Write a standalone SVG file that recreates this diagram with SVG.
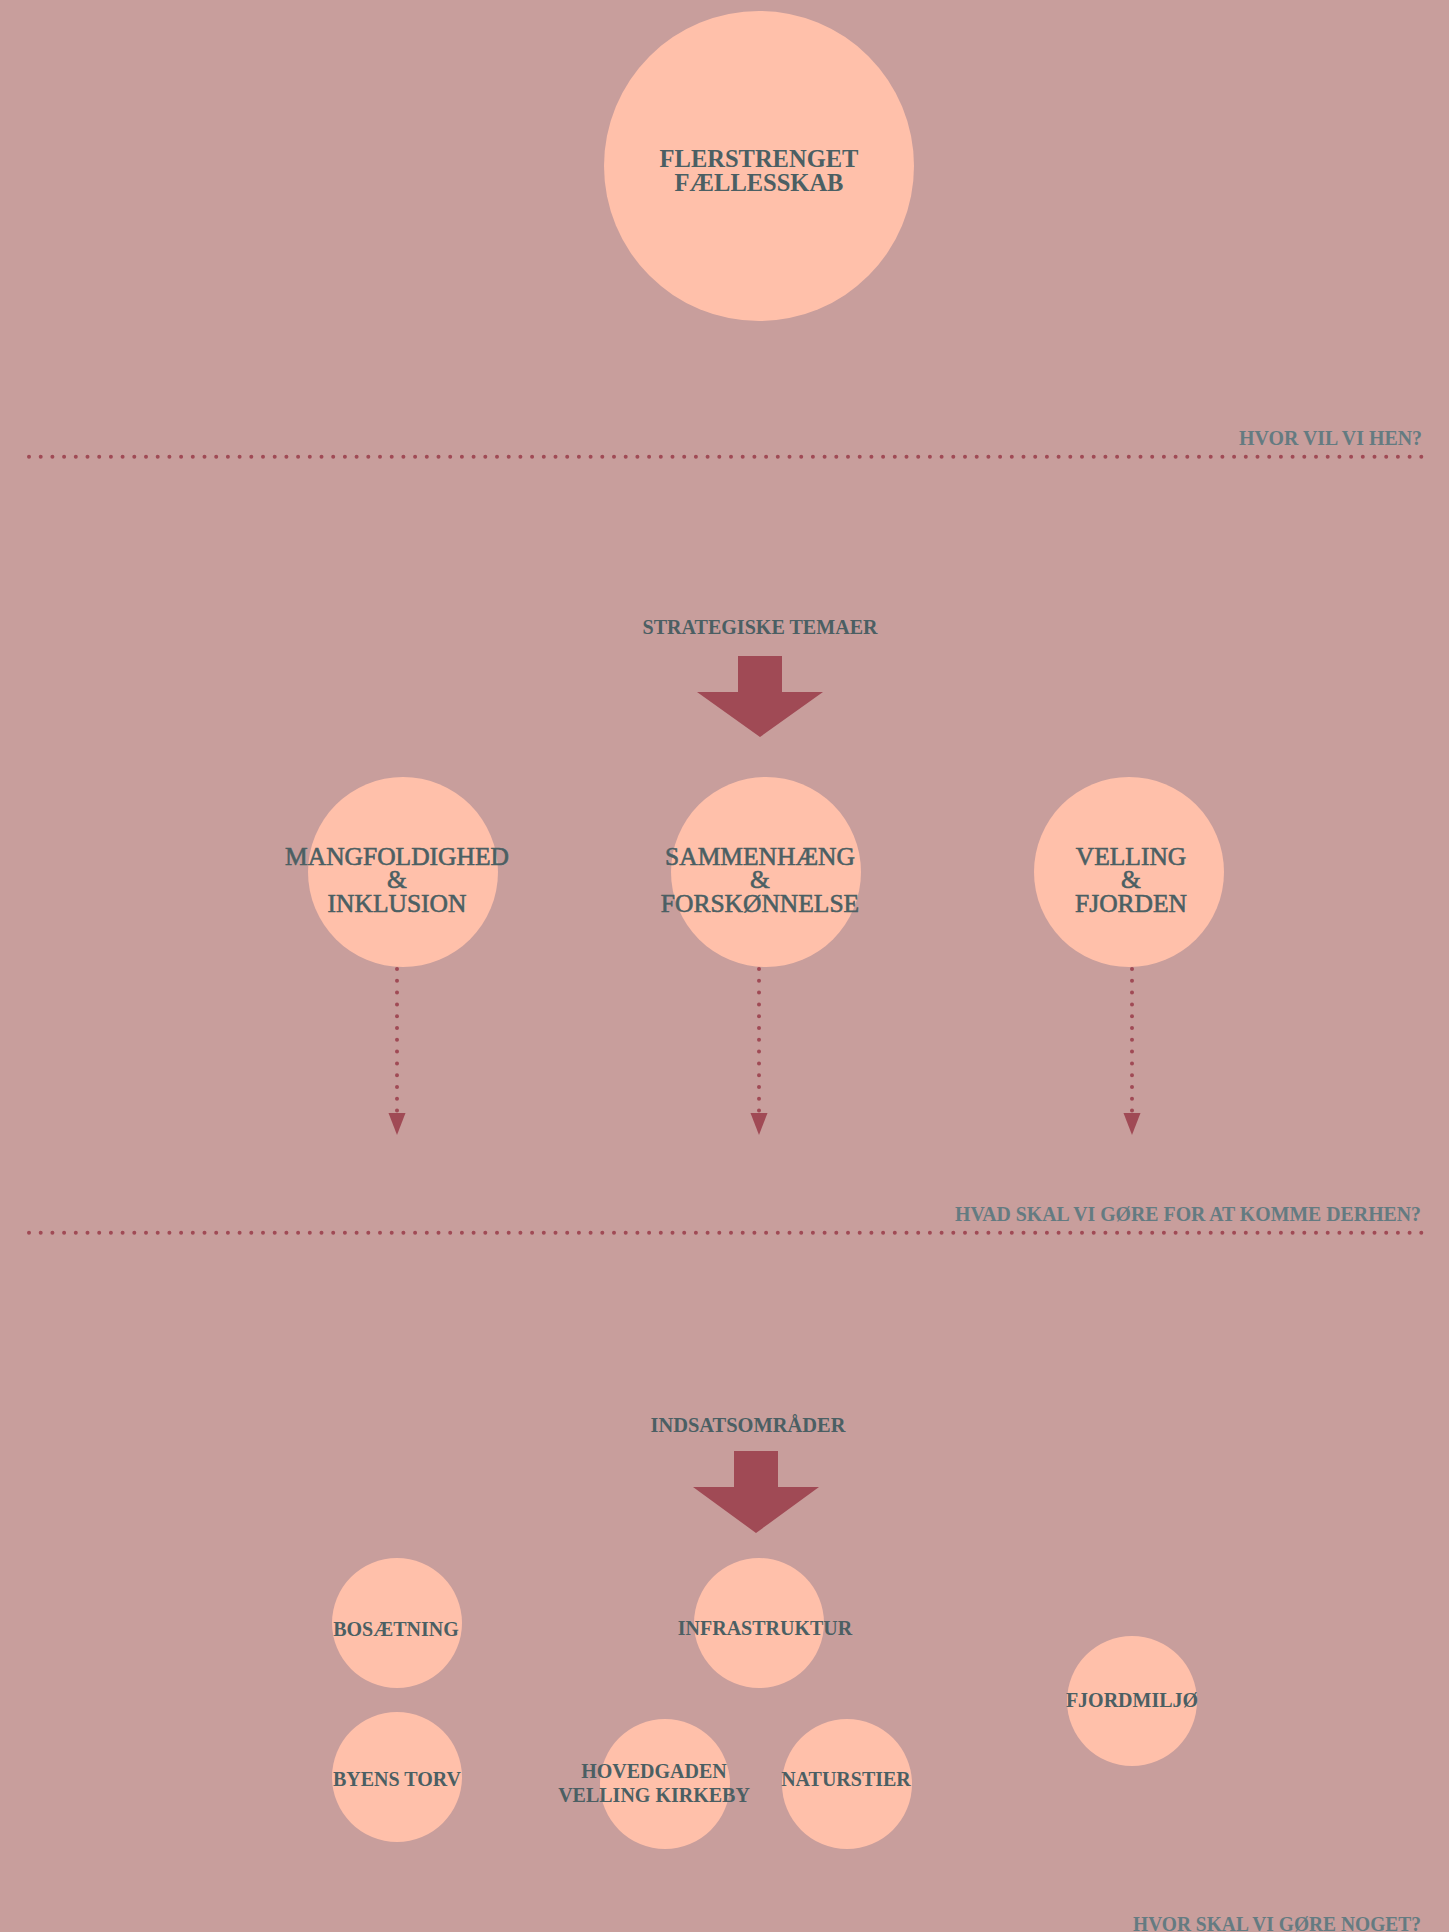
<svg xmlns="http://www.w3.org/2000/svg" width="1449" height="1932" viewBox="0 0 1449 1932">
<defs>
<style>
.bg{fill:#c89e9c}
.node{fill:#ffc0aa}
.t{font-family:"Liberation Serif","Times New Roman",serif;font-weight:bold;fill:#4b5f63;text-anchor:middle}
.tm{font-family:"Liberation Serif","Times New Roman",serif;font-weight:normal;fill:#4b5f63;stroke:#4b5f63;stroke-width:0.6;text-anchor:middle}
.lbl{font-family:"Liberation Serif","Times New Roman",serif;font-weight:bold;fill:#647b81;font-size:20px;text-anchor:end}
.hdr{font-family:"Liberation Serif","Times New Roman",serif;font-weight:bold;fill:#4b5f63;font-size:20px;text-anchor:middle}
.sep{stroke:#a04a55;stroke-width:4;stroke-linecap:round;stroke-dasharray:0 11.7;fill:none}
.conn{stroke:#a04a55;stroke-width:4;stroke-linecap:round;stroke-dasharray:0 11.8;fill:none}
.big{fill:#a04a55}
</style>
</defs>
<rect class="bg" x="0" y="0" width="1449" height="1932"/>

<g id="separators">
<line class="sep" x1="29" y1="456.7" x2="1422" y2="456.7"/>
<text class="lbl" x="1422" y="445" textLength="183" lengthAdjust="spacingAndGlyphs">HVOR VIL VI HEN?</text>
<line class="sep" x1="29" y1="1232.7" x2="1422" y2="1232.7"/>
<text class="lbl" x="1421" y="1220.5" textLength="466" lengthAdjust="spacingAndGlyphs">HVAD SKAL VI GØRE FOR AT KOMME DERHEN?</text>
<text class="lbl" x="1421" y="1931" textLength="288" lengthAdjust="spacingAndGlyphs">HVOR SKAL VI GØRE NOGET?</text>
</g>

<g id="node-top">
<circle class="node" cx="759" cy="166" r="155"/>
<text class="t" font-size="24.5" x="759" y="167">FLERSTRENGET</text>
<text class="t" font-size="24.5" x="759" y="191">FÆLLESSKAB</text>
</g>

<g id="header-strategiske">
<text class="hdr" x="760" y="634" textLength="235" lengthAdjust="spacingAndGlyphs">STRATEGISKE TEMAER</text>
<path class="big" d="M738,656 L782,656 L782,692 L823,692 L760,737 L697,692 L738,692 Z"/>
</g>

<g id="node-mangfoldighed">
<circle class="node" cx="403" cy="872" r="95"/>
<text class="tm" font-size="25.5" x="397" y="865">MANGFOLDIGHED</text>
<text class="tm" font-size="25.5" x="397" y="888">&amp;</text>
<text class="tm" font-size="25.5" x="397" y="912">INKLUSION</text>
</g>

<g id="node-sammenhaeng">
<circle class="node" cx="766" cy="872" r="95"/>
<text class="tm" font-size="25.5" x="760" y="865">SAMMENHÆNG</text>
<text class="tm" font-size="25.5" x="760" y="888">&amp;</text>
<text class="tm" font-size="25.5" x="760" y="912">FORSKØNNELSE</text>
</g>

<g id="node-velling">
<circle class="node" cx="1129" cy="872" r="95"/>
<text class="tm" font-size="25.5" x="1131" y="865">VELLING</text>
<text class="tm" font-size="25.5" x="1131" y="888">&amp;</text>
<text class="tm" font-size="25.5" x="1131" y="912">FJORDEN</text>
</g>

<g id="connectors">
<line class="conn" x1="397" y1="969" x2="397" y2="1111"/>
<path class="big" d="M388.5,1113 L405.5,1113 L397,1135 Z"/>
<line class="conn" x1="759" y1="969" x2="759" y2="1111"/>
<path class="big" d="M750.5,1113 L767.5,1113 L759,1135 Z"/>
<line class="conn" x1="1132" y1="969" x2="1132" y2="1111"/>
<path class="big" d="M1123.5,1113 L1140.5,1113 L1132,1135 Z"/>
</g>

<g id="header-indsats">
<text class="hdr" x="748" y="1432" textLength="195" lengthAdjust="spacingAndGlyphs">INDSATSOMRÅDER</text>
<path class="big" d="M734,1451 L778,1451 L778,1487 L819,1487 L756,1533 L693,1487 L734,1487 Z"/>
</g>

<g id="node-bosaetning">
<circle class="node" cx="397" cy="1623" r="65"/>
<text class="t" font-size="20" x="396" y="1636">BOSÆTNING</text>
</g>

<g id="node-infrastruktur">
<circle class="node" cx="759" cy="1623" r="65"/>
<text class="t" font-size="20" x="765" y="1635">INFRASTRUKTUR</text>
</g>

<g id="node-byens-torv">
<circle class="node" cx="397" cy="1777" r="65"/>
<text class="t" font-size="20" x="397" y="1786">BYENS TORV</text>
</g>

<g id="node-hovedgaden">
<circle class="node" cx="665" cy="1784" r="65"/>
<text class="t" font-size="20" x="654" y="1778">HOVEDGADEN</text>
<text class="t" font-size="20" x="654" y="1802">VELLING KIRKEBY</text>
</g>

<g id="node-naturstier">
<circle class="node" cx="847" cy="1784" r="65"/>
<text class="t" font-size="20" x="846" y="1786">NATURSTIER</text>
</g>

<g id="node-fjordmiljo">
<circle class="node" cx="1132" cy="1701" r="65"/>
<text class="t" font-size="20" x="1132" y="1707">FJORDMILJØ</text>
</g>
</svg>
